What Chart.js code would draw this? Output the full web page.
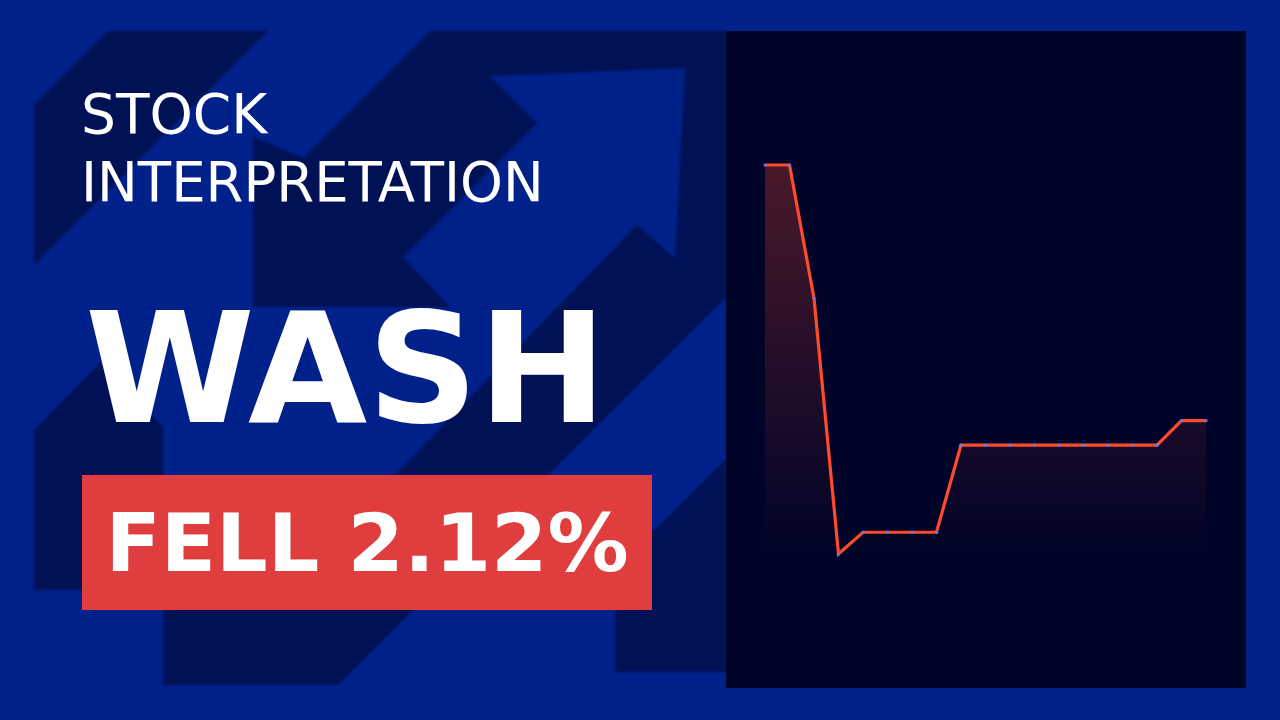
<!DOCTYPE html>
<html>
<head>
<meta charset="utf-8">
<script src="https://cdn.jsdelivr.net/npm/chart.js@4.4.1/dist/chart.umd.min.js"></script>
<style>
  html, body { margin: 0; padding: 0; }
  body { width: 1280px; height: 720px; position: relative; overflow: hidden; background: #00208a; font-family: "DejaVu Sans", sans-serif; }
  #bg { position: absolute; left: 0; top: 0; filter: blur(1px); }
  .txt { position: absolute; color: #fff; white-space: nowrap; line-height: normal; }
  #stock { left: 81px; top: 82px; font-size: 55px; }
  #interp { left: 81px; top: 150px; font-size: 54.5px; }
  #ticker { left: 85px; top: 279px; font-size: 154px; font-weight: bold; }
  #badge { position: absolute; left: 82px; top: 475px; width: 570px; height: 135px; background: #e03e3e;
           display: flex; align-items: center; justify-content: center; color: #fff; font-weight: bold; font-size: 81px; }
  #panel { position: absolute; left: 726px; top: 31px; width: 520px; height: 657px; background: #000428; }
</style>
</head>
<body>
<svg id="bg" width="1280" height="720">
  <rect width="1280" height="720" fill="#00208a"/>
  <g fill="#001255">
    <polygon points="108,31 268,31 34,265 34,105"/>
    <polygon points="430,31 726,31 726,297 338,685 163,685 163,298"/>
    <polygon points="253,137 303,158 253,208"/>
    <polygon points="34,430 100,363 198,462 110,550 110,590 34,590"/>
    <polygon points="726,459 655,530 615,530 615,672 726,672"/>
  </g>
  <polygon fill="#00208a" points="490,76 537,123 403,257 450,307 253,307 253,208 163,298 163,491 273,601 637,225 675,258 685,68"/>
</svg>

<div class="txt" id="stock">STOCK</div>
<div class="txt" id="interp">INTERPRETATION</div>
<div class="txt" id="ticker">WASH</div>
<div id="badge">FELL 2.12%</div>

<div id="panel"><canvas id="priceChart" width="520" height="657"></canvas></div>

<script>
  // intraday closes
  const times = ["09:30", "09:45", "10:00", "10:15", "10:30", "10:45", "11:00", "11:15", "11:30", "11:45",
                 "12:00", "12:15", "12:30", "12:45", "13:00", "13:15", "13:30", "13:45", "14:00"];
  const prices = [44.34, 44.34, 43.85, 42.91, 42.99, 42.99, 42.99, 42.99, 43.31, 43.31,
                  43.31, 43.31, 43.31, 43.31, 43.31, 43.31, 43.31, 43.40, 43.40];

  (function drawChart() {
    const ctx = document.getElementById("priceChart").getContext("2d");

    new Chart(ctx, {
      type: "line",
      data: {
        labels: times,
        datasets: [
          {
            data: prices,
            borderColor: "#ff4a2b",
            borderWidth: 3.2,
            tension: 0,
            pointRadius: 1.6,
            pointBorderWidth: 0,
            pointBackgroundColor: "#5a7ee6",
            fill: "start",
            backgroundColor: function (c) {
              const area = c.chart.chartArea;
              if (!area) return "rgba(255,76,45,0.2)";
              const g = c.chart.ctx.createLinearGradient(0, area.top, 0, area.bottom);
              g.addColorStop(0, "rgba(255,76,45,0.29)");
              g.addColorStop(1, "rgba(255,76,45,0)");
              return g;
            },
          },
        ],
      },
      options: {
        responsive: false,
        animation: false,
        layout: { padding: { left: 39, right: 40, top: 134, bottom: 134 } },
        plugins: { legend: { display: false }, tooltip: { enabled: false } },
        scales: {
          x: { display: false },
          y: { display: false, bounds: "data", grace: 0 },
        },
      },
    });
  })();
</script>
</body>
</html>
